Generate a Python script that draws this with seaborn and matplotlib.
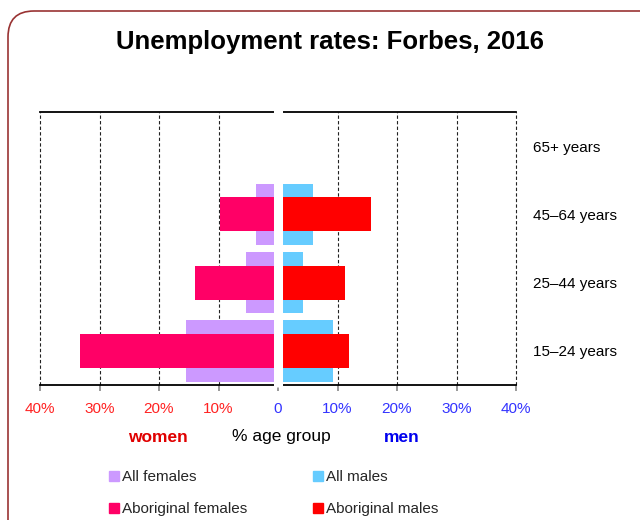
import numpy as np
import pandas as pd
import matplotlib
matplotlib.use("Agg")
import matplotlib.pyplot as plt
import seaborn as sns
from matplotlib.patches import Patch, FancyBboxPatch
from matplotlib.transforms import IdentityTransform, blended_transform_factory

# ---- data ----
ages = ["65+ years", "45–64 years", "25–44 years", "15–24 years"]
all_females = [0.0, 3.7, 5.4, 15.4]
aboriginal_females = [0.0, 9.8, 13.9, 33.3]
all_males = [0.0, 5.8, 4.2, 9.3]
aboriginal_males = [0.0, 15.6, 11.2, 12.0]
tick_values = [-40, -30, -20, -10, 0, 10, 20, 30, 40]
tick_labels = ["40%", "30%", "20%", "10%", "0", "10%", "20%", "30%", "40%"]

c_all_f = "#CC99FF"
c_abo_f = "#FF0066"
c_all_m = "#66CCFF"
c_abo_m = "#FF0000"

sns.set_theme(style="white")
plt.rcParams["font.family"] = ["Liberation Sans", "DejaVu Sans"]

fig = plt.figure(figsize=(6.4, 5.2), dpi=100)
W, H = 640, 520
ax = fig.add_axes([40 / W, 1 - 385 / H, 476 / W, 273 / H])

df = pd.DataFrame({
    "age": ages,
    "all_f": -np.array(all_females),
    "abo_f": -np.array(aboriginal_females),
    "all_m": np.array(all_males),
    "abo_m": np.array(aboriginal_males),
})

common = dict(y="age", data=df, order=ages, orient="h", ax=ax,
              saturation=1, errorbar=None)
sns.barplot(x="all_f", width=0.9, color=c_all_f, edgecolor="none", **common)
sns.barplot(x="all_m", width=0.9, color=c_all_m, edgecolor="none", **common)
sns.barplot(x="abo_f", width=0.5, color=c_abo_f, edgecolor="none", **common)
sns.barplot(x="abo_m", width=0.5, color=c_abo_m, edgecolor="none", **common)

ax.set_xlim(-40, 40)
ax.set_ylim(len(ages) - 0.5, -0.5)
ax.set_xlabel("")
ax.set_ylabel("")

# grid lines
for v in tick_values:
    if v != 0:
        ax.axvline(v, color="#222222", lw=0.8, ls=(0, (3, 2)), zorder=0.5, clip_on=False)

# spines
for s in ["left", "right"]:
    ax.spines[s].set_visible(False)
for s in ["top", "bottom"]:
    ax.spines[s].set_color("black")
    ax.spines[s].set_linewidth(1.3)

# x ticks
ax.set_xticks(tick_values)
ax.set_xticklabels(tick_labels, fontsize=11)
ax.tick_params(axis="x", direction="out", length=4, width=1.2, color="#888888", pad=8,
               bottom=True)
for lbl, v in zip(ax.get_xticklabels(), tick_values):
    lbl.set_color("#FF2222" if v < 0 else "#3333FF")

# y ticks on right
ax.yaxis.tick_right()
ax.tick_params(axis="y", length=0, pad=12, labelsize=11, labelcolor="black")

# white gap at zero
trans = blended_transform_factory(ax.transData, ax.transAxes)
ax.plot([0, 0], [-0.006, 1.006], transform=trans, color="white", lw=6.5,
        solid_capstyle="butt", zorder=5, clip_on=False)

# texts
fig.text(329.5 / W, 1 - 42 / H, "Unemployment rates: Forbes, 2016",
         ha="center", va="center", fontsize=18.5, fontweight="bold", color="black")
fig.text(157.5 / W, 1 - 437 / H, "women", ha="center", va="center",
         fontsize=12.5, fontweight="bold", color="#E00000")
fig.text(281 / W, 1 - 437 / H, "% age group", ha="center", va="center",
         fontsize=12.5, color="black")
fig.text(402 / W, 1 - 437 / H, "men", ha="center", va="center",
         fontsize=12.5, fontweight="bold", color="#0000EE")

# legend
handles = [Patch(color=c_all_f), Patch(color=c_abo_f), Patch(color=c_all_m), Patch(color=c_abo_m)]
labels = ["All females", "Aboriginal females", "All males", "Aboriginal males"]
fig.legend(handles, labels, ncol=2, loc="upper left",
           bbox_to_anchor=(109 / W, 1 - 470 / H), frameon=False, fontsize=11,
           handlelength=0.65, handleheight=0.65, handletextpad=0.2,
           columnspacing=4.3, labelspacing=1.2, borderpad=0, borderaxespad=0)

# rounded border
border = FancyBboxPatch((8, -30), 660, 509 + 30, boxstyle="round,pad=0,rounding_size=26",
                        transform=IdentityTransform(), facecolor="none",
                        edgecolor="#993333", lw=1.2)
fig.patches.append(border)

fig.savefig("out.png", dpi=100)
